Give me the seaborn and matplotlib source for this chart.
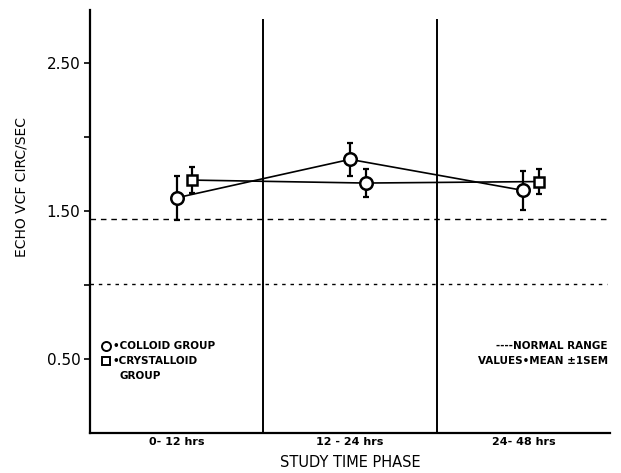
import matplotlib
matplotlib.use("Agg")
import matplotlib.pyplot as plt
import pandas as pd
import seaborn as sns

# values
phases = ["0- 12 hrs", "12 - 24 hrs", "24- 48 hrs"]
colloid_mean = [1.59, 1.85, 1.64]
colloid_sem = [0.15, 0.11, 0.13]
crystalloid_mean = [1.71, 1.69, 1.70]
crystalloid_sem = [0.09, 0.095, 0.085]
normal_low = 1.01
normal_high = 1.45
y_ticks = [0.5, 1.0, 1.5, 2.0, 2.5]
y_ticklabels = ["0.50", "", "1.50", "", "2.50"]

sns.set_style("ticks", {"axes.edgecolor": "black", "text.color": "black",
                        "xtick.color": "black", "ytick.color": "black",
                        "axes.labelcolor": "black"})
plt.rcParams["font.family"] = ["DejaVu Sans"]

W, H = 621, 473
fig = plt.figure(figsize=(W / 100, H / 100), dpi=100)
ax = fig.add_axes([90 / W, 1 - 433 / H, 520 / W, 423 / H])

# phase centres, crystalloid points drawn a bit to the right
dodge = {"colloid": 0.0, "crystalloid": 0.09}
markers = {"colloid": ["o", "o", "o"], "crystalloid": ["s", "o", "s"]}
rows = []
for grp, means, sems in [("colloid", colloid_mean, colloid_sem),
                         ("crystalloid", crystalloid_mean, crystalloid_sem)]:
    for i, ph in enumerate(phases):
        rows.append({"group": grp, "phase": ph, "x": i + 0.5 + dodge[grp],
                     "mean": means[i], "sem": sems[i], "marker": markers[grp][i]})
df = pd.DataFrame(rows)

# normal range lines
ax.axhline(normal_high, xmin=0, xmax=0.995, color="black", lw=1.0, dashes=(4, 3.5))
ax.axhline(normal_low, xmin=0, xmax=0.995, color="black", lw=1.0, dashes=(2.5, 3.5))

# phase dividers
ax.vlines([1, 2], 0, 2.8, color="black", lw=1.4)

sns.lineplot(data=df, x="x", y="mean", units="group", estimator=None,
             color="black", lw=1.2, ax=ax, sort=False)

ax.errorbar(df["x"], df["mean"], yerr=df["sem"], fmt="none", ecolor="black",
            elinewidth=1.6, capsize=2.5, capthick=1.6, zorder=3)
for _, r in df.iterrows():
    ax.plot(r["x"], r["mean"], marker=r["marker"], ms=9 if r["marker"] == "o" else 7.5,
            mfc="white", mec="black", mew=1.8, zorder=4)

ax.set_xlim(0, 3)
ax.set_ylim(0, 2.86)
ax.set_yticks(y_ticks)
ax.set_yticklabels(y_ticklabels, fontsize=11)
ax.set_xticks([])
ax.set_xlabel("")
ax.set_ylabel("")
ax.tick_params(axis="y", length=4, width=1.2, direction="out", pad=3, colors="black")
sns.despine(ax=ax)
for s in ["left", "bottom"]:
    ax.spines[s].set_linewidth(1.6)
    ax.spines[s].set_color("black")

# phase labels under the axis
for i, ph in enumerate(phases):
    ax.text(i + 0.5, -0.06, ph, ha="center", va="center", fontsize=8,
            fontweight="bold", color="black")

fig.text(350 / W, 1 - 462 / H, "STUDY TIME PHASE", ha="center", va="center",
         fontsize=10.5, color="black")
fig.text(22 / W, 1 - 187 / H, "ECHO VCF CIRC/SEC", ha="center", va="center",
         rotation=90, fontsize=10, color="black")

# legend block
fig.lines.append(plt.Line2D([106 / W], [1 - 346 / H], marker="o", ms=6.5, mfc="white",
                            mec="black", mew=1.4, transform=fig.transFigure))
fig.lines.append(plt.Line2D([106 / W], [1 - 361 / H], marker="s", ms=5.5, mfc="white",
                            mec="black", mew=1.4, transform=fig.transFigure))
txt = dict(va="center", fontsize=7.5, fontweight="bold", color="black")
fig.text(113 / W, 1 - 346 / H, "•COLLOID GROUP", ha="left", **txt)
fig.text(113 / W, 1 - 361 / H, "•CRYSTALLOID", ha="left", **txt)
fig.text(120 / W, 1 - 376 / H, "GROUP", ha="left", **txt)
fig.text(608 / W, 1 - 346 / H, "----NORMAL RANGE", ha="right", **txt)
fig.text(608 / W, 1 - 361 / H, "VALUES•MEAN ±1SEM", ha="right", **txt)

fig.savefig("out.png", dpi=100)
